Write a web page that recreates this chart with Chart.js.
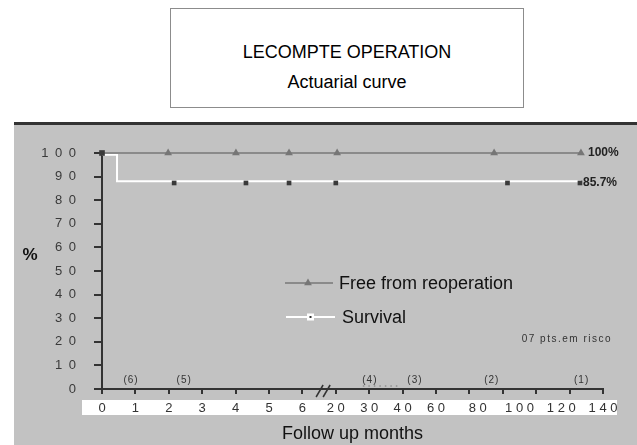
<!DOCTYPE html>
<html>
<head>
<meta charset="utf-8">
<script src="https://cdn.jsdelivr.net/npm/chart.js@4.4.0/dist/chart.umd.min.js"></script>
<style>
  body { margin: 0; background: #fff; font-family: 'Liberation Sans', Arial, sans-serif; }
  #page { position: relative; width: 637px; height: 445px; overflow: hidden; }
  #titleBox { position: absolute; left: 170px; top: 8px; width: 352px; height: 98px; border: 1px solid #8c8c8c; background: #fff; color: #000; }
  #titleBox div { position: absolute; left: 0; right: 0; text-align: center; font-size: 18px; line-height: 20px; }
  #titleBox .t1 { top: 33px; }
  #titleBox .t2 { top: 63px; }
  #panel { position: absolute; left: 14px; top: 122px; width: 623px; height: 320px; background: #c2c2c2; border-top: 3px solid #333; }
</style>
</head>
<body>
<div id="page">
  <div id="titleBox">
    <div class="t1">LECOMPTE OPERATION</div>
    <div class="t2">Actuarial curve</div>
  </div>
  <div id="panel">
    <canvas id="chart" width="623" height="320"></canvas>
  </div>
</div>
<script>
// x positions are slots on the broken axis (0..15), one slot per tick
const xTickLabels = ['0', '1', '2', '3', '4', '5', '6', '20', '30', '40', '60', '80', '100', '120', '140'];
const xTickSlots = [0, 1, 2, 3, 4, 5, 6, 7, 8, 9, 10, 11.25, 12.5, 13.75, 15];

const freeX = [0, 1.98, 4.01, 5.6, 7.04, 11.74, 14.34];
const freeY = [100, 100, 100, 100, 100, 100, 100];

const survivalX = [0, 0.45, 14.34];
const survivalY = [99.3, 88, 88];
const survivalMarkX = [0, 2.16, 4.31, 5.6, 7.0, 12.14, 14.31];
const survivalMarkY = [100, 87.3, 87.3, 87.3, 87.3, 87.3, 87.3];

const endLabels = ['100%', '85.7%'];
const atRiskLabels = ['(6)', '(5)', '(4)', '(3)', '(2)', '(1)'];
const atRiskX = [0.87, 2.46, 8.02, 9.37, 11.67, 14.36];

document.addEventListener('DOMContentLoaded', function() {
    Chart.defaults.font.family = "'Liberation Sans', Arial, sans-serif";

    function toPoints(xs, ys) {
        return xs.map(function(x, i) { return { x: x, y: ys[i] }; });
    }

    // extra drawing: white label strip, axis break, risk numbers, legend, notes
    const decor = {
        id: 'decor',
        beforeDraw: function(chart) {
            const ctx = chart.ctx;
            const area = chart.chartArea;
            const x2 = chart.scales.x2;
            ctx.save();
            ctx.fillStyle = '#fff';
            ctx.fillRect(area.left - 20, x2.top + 6, area.right - area.left + 34, 15);
            ctx.restore();
        },
        afterDraw: function(chart) {
            const ctx = chart.ctx;
            const area = chart.chartArea;
            const xs = chart.scales.x;
            const ys = chart.scales.y;
            ctx.save();

            // axis break marks
            ctx.strokeStyle = '#333';
            ctx.lineWidth = 1.5;
            [6.53, 6.74].forEach(function(v) {
                const px = xs.getPixelForValue(v);
                ctx.beginPath();
                ctx.moveTo(px - 4, area.bottom + 8);
                ctx.lineTo(px + 3, area.bottom - 4);
                ctx.stroke();
            });

            // small dots between 30 and 40
            ctx.strokeStyle = '#777';
            ctx.lineWidth = 1;
            ctx.setLineDash([1.5, 4]);
            ctx.beginPath();
            ctx.moveTo(xs.getPixelForValue(7.81), area.bottom - 3);
            ctx.lineTo(xs.getPixelForValue(8.86), area.bottom - 3);
            ctx.stroke();
            ctx.setLineDash([]);

            // patients at risk
            ctx.fillStyle = '#333';
            ctx.font = '10px ' + Chart.defaults.font.family;
            ctx.letterSpacing = '1px';
            ctx.textAlign = 'center';
            ctx.textBaseline = 'middle';
            atRiskLabels.forEach(function(t, i) {
                ctx.fillText(t, xs.getPixelForValue(atRiskX[i]), area.bottom - 9);
            });

            ctx.letterSpacing = '1.5px';
            ctx.textAlign = 'right';
            ctx.fillText('07 pts.em risco', area.right + 9, area.top + 186);
            ctx.letterSpacing = '0px';

            // end labels
            ctx.fillStyle = '#222';
            ctx.font = 'bold 12px ' + Chart.defaults.font.family;
            ctx.textAlign = 'left';
            const lastFree = freeX.length - 1;
            const lastMark = survivalMarkX.length - 1;
            ctx.fillText(endLabels[0], xs.getPixelForValue(freeX[lastFree]) + 7, ys.getPixelForValue(freeY[lastFree]));
            ctx.fillText(endLabels[1], xs.getPixelForValue(survivalMarkX[lastMark]) + 3, ys.getPixelForValue(survivalMarkY[lastMark]));

            // y title
            ctx.font = 'bold 17px ' + Chart.defaults.font.family;
            ctx.fillStyle = '#111';
            ctx.textAlign = 'center';
            ctx.fillText('%', 16, area.top + 102);

            // legend
            const free = chart.data.datasets[1];
            const surv = chart.data.datasets[2];
            const lx = area.left + 183;
            const ly1 = area.top + 130;
            const ly2 = area.top + 164;

            ctx.strokeStyle = free.borderColor;
            ctx.lineWidth = 2;
            ctx.beginPath();
            ctx.moveTo(lx, ly1);
            ctx.lineTo(lx + 48, ly1);
            ctx.stroke();
            ctx.fillStyle = free.pointBackgroundColor;
            Chart.helpers.drawPoint(ctx, { pointStyle: 'triangle', radius: 4.5, borderWidth: 0, rotation: 0 }, lx + 23, ly1);

            ctx.strokeStyle = surv.borderColor;
            ctx.beginPath();
            ctx.moveTo(lx + 1, ly2);
            ctx.lineTo(lx + 50, ly2);
            ctx.stroke();
            ctx.fillStyle = '#fff';
            ctx.fillRect(lx + 22, ly2 - 3.5, 7, 7);
            ctx.fillStyle = '#333';
            ctx.fillRect(lx + 24.5, ly2 - 1, 2, 2);

            ctx.fillStyle = '#111';
            ctx.font = '18px ' + Chart.defaults.font.family;
            ctx.textAlign = 'left';
            ctx.fillText(free.label, lx + 54, ly1 + 1);
            ctx.fillText(surv.label, lx + 57, ly2 + 1);

            ctx.restore();
        }
    };

    const ctx = document.getElementById('chart').getContext('2d');
    const survivalChart = new Chart(ctx, {
        type: 'line',
        data: {
            datasets: [{
                label: 'Survival marks',
                data: toPoints(survivalMarkX, survivalMarkY),
                xAxisID: 'x',
                showLine: false,
                pointStyle: 'rect',
                pointRadius: function(c) { return c.dataIndex === 0 ? 4 : 3.3; },
                pointBackgroundColor: '#3a3a3a',
                pointBorderWidth: 0,
                clip: false
            }, {
                label: 'Free from reoperation',
                data: toPoints(freeX, freeY),
                xAxisID: 'x',
                borderColor: '#8a8a8a',
                borderWidth: 2,
                pointStyle: 'triangle',
                pointRadius: function(c) { return c.dataIndex === 0 ? 0 : 4.5; },
                pointBackgroundColor: '#767676',
                pointBorderWidth: 0,
                clip: false
            }, {
                label: 'Survival',
                data: toPoints(survivalX, survivalY),
                xAxisID: 'x',
                stepped: true,
                borderColor: '#ffffff',
                borderWidth: 2,
                pointRadius: 0,
                clip: false
            }]
        },
        options: {
            responsive: false,
            animation: false,
            devicePixelRatio: 1,
            layout: { padding: { top: 28, right: 34, bottom: 0, left: 0 } },
            plugins: {
                legend: { display: false },
                tooltip: { enabled: false }
            },
            scales: {
                x: {
                    type: 'linear',
                    position: 'bottom',
                    min: 0,
                    max: 15,
                    weight: 0,
                    afterFit: function(scale) { scale.height = 5; },
                    ticks: { display: false, stepSize: 1 },
                    grid: { drawOnChartArea: false, drawTicks: true, tickLength: 5, color: '#333', lineWidth: 2 },
                    border: { color: '#333', width: 2 }
                },
                x2: {
                    type: 'linear',
                    position: 'bottom',
                    min: 0,
                    max: 15,
                    weight: 1,
                    afterBuildTicks: function(scale) {
                        scale.ticks = xTickSlots.map(function(v) { return { value: v }; });
                    },
                    afterFit: function(scale) { scale.height = 51; },
                    grid: { display: false, drawTicks: false, tickLength: 0 },
                    border: { display: false },
                    ticks: {
                        autoSkip: false,
                        maxRotation: 0,
                        padding: 7,
                        color: '#333',
                        font: { size: 13 },
                        callback: function(value, index) {
                            return xTickLabels[index].split('').join(' ');
                        }
                    },
                    title: {
                        display: true,
                        text: 'Follow up months',
                        color: '#111',
                        font: { size: 18 },
                        padding: { top: 7, bottom: 0 }
                    }
                },
                y: {
                    min: 0,
                    max: 100,
                    afterFit: function(scale) { scale.width = 88; },
                    ticks: {
                        stepSize: 10,
                        padding: 18,
                        color: '#3a3a3a',
                        font: { size: 13 },
                        callback: function(value) {
                            return String(value).split('').join('\u2002');
                        }
                    },
                    grid: { drawOnChartArea: false, tickLength: 8, color: '#333', lineWidth: 2 },
                    border: { color: '#333', width: 2 }
                }
            }
        },
        plugins: [decor]
    });
});
</script>
</body>
</html>
